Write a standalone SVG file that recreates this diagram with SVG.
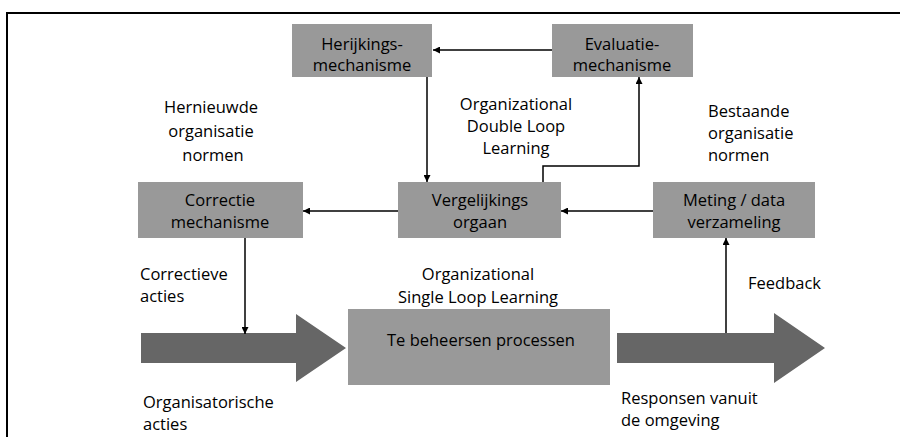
<svg xmlns="http://www.w3.org/2000/svg" width="903" height="437" viewBox="0 0 903 437">
  <style>
    .box { fill: #999999; }
    .big { fill: #666666; }
    .ln { stroke: #000000; stroke-width: 1.5; fill: none; }
    text { font-family: "Open Sans", "Liberation Sans", sans-serif; font-size: 16.5px; fill: #000000; }
    .c { text-anchor: middle; }
  </style>
  <defs>
    <marker id="ah" viewBox="0 0 10 10" refX="10" refY="5" markerWidth="7" markerHeight="7" markerUnits="userSpaceOnUse" orient="auto">
      <path d="M0,0 L10,5 L0,10 z" fill="#000000"/>
    </marker>
  </defs>

  <!-- frame -->
  <path d="M7,437 L7,13 L900,13" stroke="#000000" stroke-width="2" fill="none"/>

  <!-- big flow arrows -->
  <g id="input-arrow">
    <polygon class="big" points="141,333 296,333 296,314 346,348 296,382 296,363 141,363"/>
  </g>
  <g id="output-arrow">
    <polygon class="big" points="617,333 774,333 774,313 825,348 774,383 774,363 617,363"/>
  </g>

  <!-- connectors -->
  <g id="connectors">
    <line class="ln" x1="552" y1="50" x2="433" y2="50" marker-end="url(#ah)"/>
    <line class="ln" x1="427" y1="77" x2="427" y2="182" marker-end="url(#ah)"/>
    <polyline class="ln" points="543,182 543,166 639,166 639,77" marker-end="url(#ah)"/>
    <line class="ln" x1="653" y1="211" x2="561" y2="211" marker-end="url(#ah)"/>
    <line class="ln" x1="398" y1="211" x2="303" y2="211" marker-end="url(#ah)"/>
    <line class="ln" x1="245" y1="238" x2="245" y2="334" marker-end="url(#ah)"/>
    <line class="ln" x1="726" y1="333" x2="726" y2="238" marker-end="url(#ah)"/>
  </g>

  <g id="herijking">
    <rect class="box" x="292" y="24" width="140" height="53"/>
    <text class="c" x="362" y="50">Herijkings-</text>
    <text class="c" x="362" y="71">mechanisme</text>
  </g>
  <g id="evaluatie">
    <rect class="box" x="552" y="24" width="141" height="53"/>
    <text class="c" x="622" y="50">Evaluatie-</text>
    <text class="c" x="622" y="71">mechanisme</text>
  </g>
  <g id="correctie">
    <rect class="box" x="138" y="182" width="165" height="56"/>
    <text class="c" x="220" y="206">Correctie</text>
    <text class="c" x="220" y="228">mechanisme</text>
  </g>
  <g id="vergelijking">
    <rect class="box" x="398" y="182" width="163" height="56"/>
    <text class="c" x="480" y="206">Vergelijkings</text>
    <text class="c" x="480" y="228">orgaan</text>
  </g>
  <g id="meting">
    <rect class="box" x="653" y="182" width="162" height="56"/>
    <text class="c" x="734" y="206">Meting / data</text>
    <text class="c" x="734" y="228">verzameling</text>
  </g>
  <g id="processen">
    <rect class="box" x="348" y="309" width="262" height="76"/>
    <text class="c" x="481" y="346">Te beheersen processen</text>
  </g>

  <!-- labels -->
  <g id="labels">
    <text class="c" x="211" y="113">Hernieuwde</text>
    <text class="c" x="211" y="137">organisatie</text>
    <text class="c" x="213" y="161">normen</text>

    <text class="c" x="516" y="110">Organizational</text>
    <text class="c" x="516" y="132">Double Loop</text>
    <text class="c" x="516" y="154">Learning</text>

    <text x="708" y="117">Bestaande</text>
    <text x="708" y="139">organisatie</text>
    <text x="708" y="161">normen</text>

    <text x="140" y="280">Correctieve</text>
    <text x="140" y="302">acties</text>

    <text class="c" x="478" y="280">Organizational</text>
    <text class="c" x="478" y="303">Single Loop Learning</text>

    <text x="748" y="289">Feedback</text>

    <text x="143" y="408">Organisatorische</text>
    <text x="143" y="430">acties</text>

    <text x="621" y="404">Responsen vanuit</text>
    <text x="621" y="426">de omgeving</text>
  </g>
</svg>
